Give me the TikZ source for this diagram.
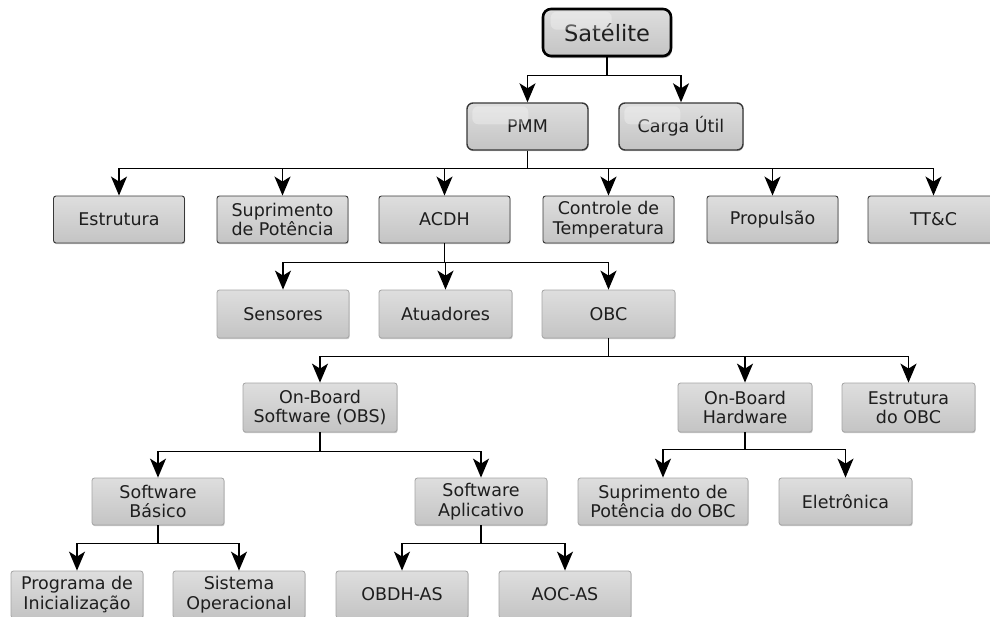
\documentclass[tikz,border=0pt]{standalone}
\usepackage{fontspec}
\setmainfont{DejaVu Sans}
\usetikzlibrary{arrows.meta,shadows}
\definecolor{bordA}{HTML}{383838}
\definecolor{bordB}{HTML}{A4A4A4}
\definecolor{boxtop}{HTML}{DEDEDE}
\definecolor{boxbot}{HTML}{C4C4C4}
\definecolor{txt}{HTML}{1E1E1E}
\begin{document}
\begin{tikzpicture}[x=1pt,y=-1pt,
  box/.style={draw=bordA, line width=0.9pt, rounded corners=2.5pt,
    top color=boxtop, bottom color=boxbot, minimum height=47pt,
    minimum width=131pt, inner sep=0pt, align=center,
    font=\fontsize{17.5}{19.5}\selectfont, text=txt,
    drop shadow={shadow xshift=0.6pt, shadow yshift=-1.2pt, opacity=0.22, fill=black}},
  lbox/.style={box, draw=bordB, line width=0.8pt},
  topbox/.style={box, line width=1.4pt, rounded corners=6pt, minimum width=121pt},
  satbox/.style={box, draw=black, line width=2.6pt, rounded corners=8pt,
    minimum width=128pt, minimum height=47pt,
    font=\fontsize{22.5}{26}\selectfont,
    drop shadow={shadow xshift=1pt, shadow yshift=-2pt, opacity=0.3, fill=black}},
  gloss/.style={fill=white, opacity=0.3, rounded corners=6pt},
  bus/.style={line width=1.5pt, draw=black},
  arr/.style={bus, arrows={-Stealth[length=19pt,width=16pt,inset=5pt]}}
]
\useasboundingbox (0,0) rectangle (990,616);
\clip (0,0) rectangle (990,616);

% level 0 and 1
\node[satbox] (sat) at (607,32.5) {Satélite};
\node[topbox] (pmm) at (527.5,126.5) {PMM};
\node[topbox, minimum width=124pt] (carga) at (681,126.5) {Carga Útil};
\fill[gloss] ([xshift=9pt,yshift=-4pt]sat.north west) rectangle ([xshift=70pt,yshift=-22pt]sat.north west);
\fill[gloss] ([xshift=6pt,yshift=-4pt]pmm.north west) rectangle ([xshift=62pt,yshift=-22pt]pmm.north west);
\fill[gloss] ([xshift=6pt,yshift=-4pt]carga.north west) rectangle ([xshift=62pt,yshift=-22pt]carga.north west);

% level 2
\node[box] (estr) at (119,219.5) {Estrutura};
\node[box] (sup) at (282.5,219.5) {Suprimento\\de Potência};
\node[box] (acdh) at (444.5,219.5) {ACDH};
\node[box] (ctrl) at (608.5,219.5) {Controle de\\Temperatura};
\node[box] (prop) at (772.5,219.5) {Propulsão};
\node[box] (ttc) at (933.5,219.5) {TT\&C};

% level 3
\node[lbox, minimum height=48pt, minimum width=132pt] (sens) at (283,314) {Sensores};
\node[lbox, minimum height=48pt, minimum width=133pt] (atu) at (445.5,314) {Atuadores};
\node[lbox, minimum height=48pt, minimum width=133pt] (obc) at (608.5,314) {OBC};

% level 4
\node[lbox, minimum height=49pt, minimum width=154pt] (obs) at (320,407.5) {On-Board\\Software (OBS)};
\node[lbox, minimum height=49pt, minimum width=134pt] (obh) at (745,407.5) {On-Board\\Hardware};
\node[lbox, minimum height=49pt, minimum width=133pt] (eobc) at (908.5,407.5) {Estrutura\\do OBC};

% level 5
\node[lbox, minimum width=132pt] (sb) at (158,501.5) {Software\\Básico};
\node[lbox, minimum width=132pt] (sa) at (481,501.5) {Software\\Aplicativo};
\node[lbox, minimum width=170pt] (spobc) at (663,501.5) {Suprimento de\\Potência do OBC};
\node[lbox, minimum width=133pt] (ele) at (845.5,501.5) {Eletrônica};

% level 6
\node[lbox, minimum width=132pt] (prog) at (77,594.5) {Programa de\\Inicialização};
\node[lbox, minimum width=132pt] (sis) at (239,594.5) {Sistema\\Operacional};
\node[lbox, minimum width=132pt] (obdh) at (402,594.5) {OBDH-AS};
\node[lbox, minimum width=132pt] (aoc) at (565,594.5) {AOC-AS};

% connectors
\draw[bus] (sat.south) -- ++(0,18) coordinate (jsat);
\foreach \c in {pmm,carga} \draw[arr] (jsat) -| (\c.north);

\draw[bus] (pmm.south) -- ++(0,18) coordinate (jpmm);
\foreach \c in {estr,sup,acdh,ctrl,prop,ttc} \draw[arr] (jpmm) -| (\c.north);

\draw[bus] (acdh.south) -- ++(0,19) coordinate (jacdh);
\foreach \c in {sens,atu,obc} \draw[arr] (jacdh) -| (\c.north);

\draw[bus] (obc.south) -- ++(0,18) coordinate (jobc);
\foreach \c in {obs,obh,eobc} \draw[arr] (jobc) -| (\c.north);

\draw[bus] (obs.south) -- ++(0,19) coordinate (jobs);
\foreach \c in {sb,sa} \draw[arr] (jobs) -| (\c.north);

\draw[bus] (obh.south) -- ++(0,17) coordinate (jobh);
\foreach \c in {spobc,ele} \draw[arr] (jobh) -| (\c.north);

\draw[bus] (sb.south) -- ++(0,18) coordinate (jsb);
\foreach \c in {prog,sis} \draw[arr] (jsb) -| (\c.north);

\draw[bus] (sa.south) -- ++(0,18) coordinate (jsa);
\foreach \c in {obdh,aoc} \draw[arr] (jsa) -| (\c.north);
\end{tikzpicture}
\end{document}
